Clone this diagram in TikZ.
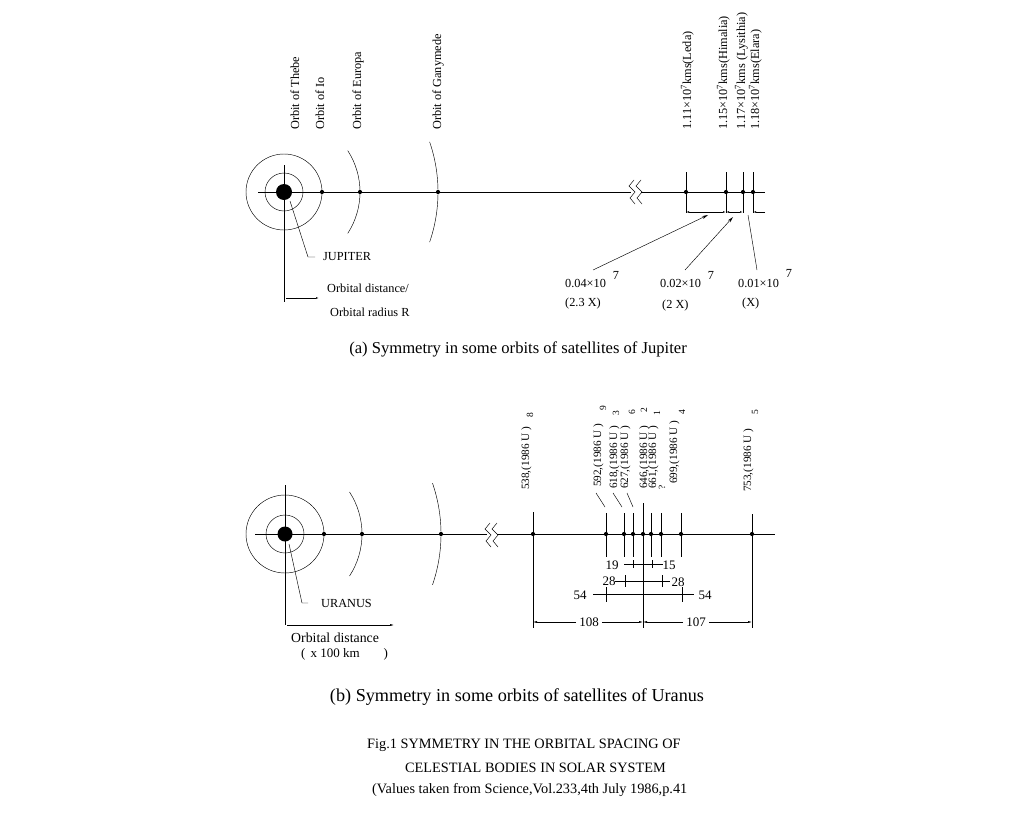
\documentclass[tikz,border=0pt]{standalone}
\usepackage{fontspec}
\setmainfont{Liberation Serif}
\usetikzlibrary{arrows.meta}
\begin{document}
\begin{tikzpicture}[x=1pt,y=-1pt,
  ln/.style={line width=0.6pt},
  thn/.style={line width=0.45pt},
  dot/.style={circle,fill,inner sep=0pt,minimum size=4.2pt},
  lbl/.style={font=\fontsize{12.3}{14}\selectfont,inner sep=0pt},
  rlbl/.style={lbl,rotate=90,anchor=base west},
  slbl/.style={font=\fontsize{11.2}{13}\selectfont,inner sep=0pt,rotate=90,anchor=base west},
  sub/.style={font=\fontsize{9.5}{11}\selectfont,inner sep=0pt,rotate=90},
  dim/.style={font=\fontsize{13}{14}\selectfont,inner sep=0pt},
  tip/.style={-{Latex[length=4pt,width=2pt]}},
  sarr/.style={-{Stealth[length=6pt,width=3pt]}},
  captext/.style={inner sep=0pt}]
\useasboundingbox (0,0) rectangle (1024,819);
% ================= (a) Jupiter =================
\coordinate (J) at (284,192);
\draw[thn] (J) circle[radius=19];
\draw[thn] (J) circle[radius=38];
\fill (J) circle[radius=8];
\coordinate (ha) at (258,192);
\coordinate (hb) at (631,192);
\coordinate (hc) at (641,192);
\coordinate (hd) at (765,192);
\draw[ln] (ha) -- (hb);
\draw[ln] (hc) -- (hd);
\coordinate (va) at (284,165);
\coordinate (vb) at (284,302);
\draw[ln] (va) -- (vb);
% break
\draw[thn] (634,180) -- (629,186) -- (635,192) -- (630,198) -- (635,204);
\draw[thn] (641,180) -- (636,186) -- (642,192) -- (637,198) -- (642,204);
% arcs
\draw[thn] ([shift={(-33:76)}]J) arc[start angle=-33,end angle=33,radius=76];
\draw[thn] ([shift={(-19:154)}]J) arc[start angle=-19,end angle=19,radius=154];
% dots
\node[dot] (io) at (322,192) {};
\node[dot] (eu) at (360,192) {};
\node[dot] (ga) at (438,192) {};
\node[dot] (le) at (686,192) {};
\node[dot] (hi) at (726,192) {};
\node[dot] (ly) at (743,192) {};
\node[dot] (el) at (753,192) {};
\foreach \n in {le,hi,ly,el}{
  \draw[thn] (\n) ++(0,-20) -- ++(0,41);
}
% dimension line
\coordinate (d1) at (686,212);
\coordinate (d2) at (726,212);
\coordinate (d3) at (743,212);
\coordinate (d4) at (753,212);
\coordinate (d5) at (765,212);
\draw[thn,{Latex[length=3pt,width=1.6pt]}-{Latex[length=3pt,width=1.6pt]}] (d1) -- (d2);
\draw[thn,{Latex[length=3pt,width=1.6pt]}-{Latex[length=3pt,width=1.6pt]}] (d2) -- (d3);
\draw[thn,-{Latex[length=3pt,width=1.6pt]}] (d5) -- (d4);
% leaders
\coordinate (l1) at (593,270);
\coordinate (l1e) at (708,215);
\coordinate (l2) at (685,270);
\coordinate (l2e) at (733,217);
\coordinate (l3) at (757,270);
\coordinate (l3e) at (748,215);
\draw[thn,sarr] (l1) -- (l1e);
\draw[thn,sarr] (l2) -- (l2e);
\draw[thn] (l3) -- (l3e);
% orbit labels
\node[rlbl] (tThebe) at (299,130) {Orbit of Thebe};
\node[rlbl] (tIo) at (324,130) {Orbit of Io};
\node[rlbl] (tEur) at (361,130) {Orbit of Europa};
\node[rlbl] (tGan) at (441,130) {Orbit of Ganymede};
\node[rlbl] (tLeda) at (691,130) {1.11×10\textsuperscript{7}kms(Leda)};
\node[rlbl] (tHim) at (727,130) {1.15×10\textsuperscript{7}kms(Himalia)};
\node[rlbl] (tLys) at (745,130) {1.17×10\textsuperscript{7}kms (Lysithia)};
\node[rlbl] (tEla) at (759,130) {1.18×10\textsuperscript{7}kms(Elara)};
% lower labels
\node[lbl,anchor=base west] (v1) at (565,287) {0.04×10};
\node[lbl] (v1e) at (616,275) {7};
\node[lbl,anchor=base west] (v1x) at (565,306) {(2.3 X)};
\node[lbl,anchor=base west] (v2) at (660,287) {0.02×10};
\node[lbl] (v2e) at (711,275) {7};
\node[lbl,anchor=base west] (v2x) at (662,308) {(2 X)};
\node[lbl,anchor=base west] (v3) at (738,287) {0.01×10};
\node[lbl] (v3e) at (789,273) {7};
\node[lbl,anchor=base west] (v3x) at (742,306) {(X)};
% Jupiter leader and axis
\coordinate (jl1) at (290,201);
\coordinate (jl2) at (308,257);
\coordinate (jl3) at (315,257);
\draw[thn] (jl1) -- (jl2) -- (jl3);
\node[lbl,anchor=west] (jup) at (323,257) {JUPITER};
\coordinate (ax1) at (286,298);
\coordinate (ax2) at (319,298);
\draw[thn,-{Latex[length=3pt,width=1.6pt]}] (ax1) -- (ax2);
\node[lbl,anchor=west] (od1) at (327,288) {Orbital distance/};
\node[lbl,anchor=west] (od2) at (330,312) {Orbital radius R};
\node[captext,font=\fontsize{16.6}{18}\selectfont] (capa) at (518,349) {(a) Symmetry in some orbits of satellites of Jupiter};
% ================= (b) Uranus =================
\coordinate (U) at (285,534);
\draw[thn] (U) circle[radius=19];
\draw[thn] (U) circle[radius=39];
\fill (U) circle[radius=7.5];
\coordinate (ua) at (255,534);
\coordinate (ub) at (487,534);
\coordinate (uc) at (497,534);
\coordinate (ud) at (775,534);
\draw[ln] (ua) -- (ub);
\draw[ln] (uc) -- (ud);
\coordinate (uva) at (285,485);
\coordinate (uvb) at (285,625);
\draw[ln] (uva) -- (uvb);
\draw[thn] (490,523) -- (485,529) -- (491,535) -- (486,541) -- (491,547);
\draw[thn] (497,523) -- (492,529) -- (498,535) -- (493,541) -- (498,547);
\draw[thn] ([shift={(-33:77)}]U) arc[start angle=-33,end angle=33,radius=77];
\draw[thn] ([shift={(-19:156)}]U) arc[start angle=-19,end angle=19,radius=156];
\node[dot] (u1) at (324,534) {};
\node[dot] (u2) at (362,534) {};
\node[dot] (u3) at (441,534) {};
\node[dot] (s8) at (533,534) {};
\node[dot] (s9) at (606,534) {};
\node[dot] (s3) at (624,534) {};
\node[dot] (s6) at (633,534) {};
\node[dot] (s2) at (643,534) {};
\node[dot] (s1) at (651,534) {};
\node[dot] (sq) at (661,534) {};
\node[dot] (s4) at (681,534) {};
\node[dot] (s5) at (752,534) {};
\foreach \n in {s9,s3,s6,s1,sq,s4}{
  \draw[thn] (\n) ++(0,-21) -- ++(0,44);
}
\draw[thn] (s8) ++(0,-22) -- ++(0,116);
\draw[thn] (s5) ++(0,-20) -- ++(0,114);
\draw[thn] (s2) ++(0,-31) -- ++(0,125);
% slashes
\draw[thn] (596,493) -- (605,507);
\draw[thn] (613,493) -- (622,507);
\draw[thn] (627,493) -- (633,507);
% satellite labels
\node[slbl] (n538) at (529,490) {538,(1986 U )};
\node[slbl] (n592) at (601,487) {592,(1986 U )};
\node[slbl] (n618) at (617,489) {618,(1986 U )};
\node[slbl] (n627) at (628,489) {627,(1986 U )};
\node[slbl] (n646) at (647,489) {646,(1986 U )};
\node[slbl] (n661) at (656,489) {661,(1986 U )};
\node[slbl] (n699) at (677,484) {699,(1986 U )};
\node[slbl] (n753) at (751,492) {753,(1986 U )};
\node[sub] (q8) at (530,415) {8};
\node[sub] (q9) at (603,408) {9};
\node[sub] (q3) at (616,413) {3};
\node[sub] (q6) at (632,412) {6};
\node[sub] (q2) at (644,410) {2};
\node[sub] (q1) at (657,413) {1};
\node[sub] (qq) at (662,487) {?};
\node[sub] (q4) at (682,412) {4};
\node[sub] (q5) at (755,412) {5};
% dimensions
\draw[thn] (624,564) -- (663,564);
\foreach \x in {633,643,652} \draw[thn] (\x,560) -- (\x,568);
\node[dim] (t19) at (612,565) {19};
\node[dim] (t15) at (669,565) {15};
\draw[thn] (615,581) -- (670,581);
\foreach \x in {625,643,662} \draw[thn] (\x,575) -- (\x,587);
\node[dim] (t28a) at (609,581) {28};
\node[dim] (t28b) at (678,582) {28};
\draw[thn] (593,594) -- (694,594);
\foreach \x in {606,643,682} \draw[thn] (\x,587) -- (\x,602);
\node[dim] (t54a) at (580,595) {54};
\node[dim] (t54b) at (705,595) {54};
\node[dim] (t108) at (589,622) {108};
\node[dim] (t107) at (696,622) {107};
\draw[thn,tip] (t108.west) ++(-3,0) -- (533,622);
\draw[thn,tip] (t108.east) ++(3,0) -- (643,622);
\draw[thn,tip] (t107.west) ++(-3,0) -- (643,622);
\draw[thn,tip] (t107.east) ++(3,0) -- (752,622);
% Uranus leader and axis
\coordinate (ul1) at (289,544);
\coordinate (ul2) at (302,603);
\coordinate (ul3) at (308,603);
\draw[thn] (ul1) -- (ul2) -- (ul3);
\node[lbl,anchor=west] (ura) at (321,603) {URANUS};
\coordinate (uax1) at (287,625);
\coordinate (uax2) at (394,625);
\draw[thn,-{Latex[length=4pt,width=2pt]}] (uax1) -- (uax2);
\node[lbl,anchor=west,font=\fontsize{13.8}{15}\selectfont] (uod) at (291,638) {Orbital distance};
\node[lbl,anchor=west,font=\fontsize{13}{15}\selectfont] (ukm) at (301,654) {(\hspace{5pt}x 100 km\hspace{24pt})};
\node[captext,font=\fontsize{18.2}{20}\selectfont] (capb) at (517,697) {(b) Symmetry in some orbits of satellites of Uranus};
% ================= figure caption =================
\node[captext,font=\fontsize{14.3}{16}\selectfont,anchor=west] (f1) at (367,745) {Fig.1 SYMMETRY IN THE ORBITAL SPACING OF};
\node[captext,font=\fontsize{14.3}{16}\selectfont,anchor=west] (f2) at (405,768) {CELESTIAL BODIES IN SOLAR SYSTEM};
\node[captext,font=\fontsize{14.3}{16}\selectfont,anchor=west] (f3) at (372,790) {(Values taken from Science,Vol.233,4th July 1986,p.41};
\end{tikzpicture}
\end{document}
